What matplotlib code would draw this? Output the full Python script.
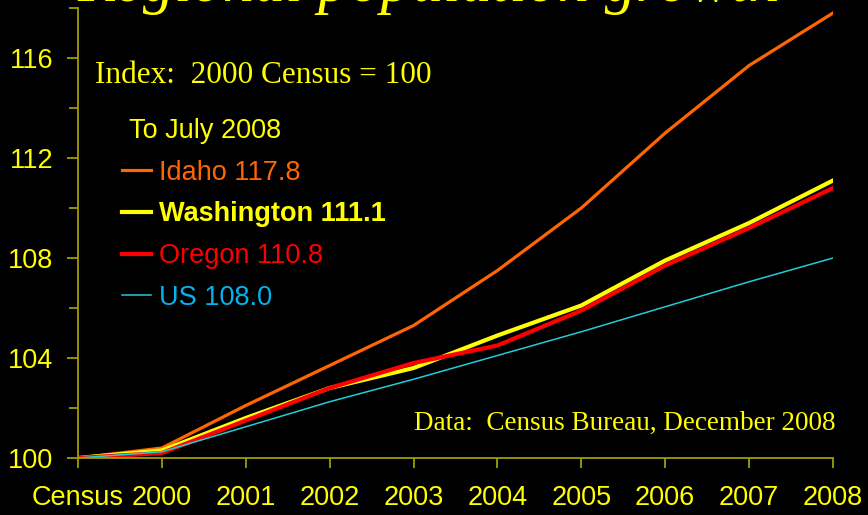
import matplotlib
matplotlib.use("Agg")
import matplotlib.pyplot as plt
import numpy as np

# ---- data ----
categories = ["Census", "2000", "2001", "2002", "2003", "2004", "2005", "2006", "2007", "2008"]
idaho      = [100.0, 100.4, 102.1, 103.7, 105.3, 107.5, 110.0, 113.0, 115.7, 117.8]
washington = [100.0, 100.3, 101.6, 102.8, 103.6, 104.9, 106.1, 107.9, 109.4, 111.1]
oregon     = [100.0, 100.2, 101.5, 102.8, 103.8, 104.5, 105.9, 107.7, 109.2, 110.8]
us         = [100.0, 100.25, 101.25, 102.25, 103.15, 104.1, 105.05, 106.05, 107.05, 108.0]
series_labels = ["Idaho 117.8", "Washington 111.1", "Oregon 110.8", "US 108.0"]
y_major = [100, 104, 108, 112, 116]
y_minor = [102, 106, 110, 114, 118]

YEL = "#FFFF00"
AXC = "#A09E00"
SANS = "Liberation Sans"
SERIF = "Liberation Serif"

W, H = 868, 515
fig = plt.figure(figsize=(W / 100, H / 100), dpi=100, facecolor="black")
ax = fig.add_axes([78 / W, (H - 458) / H, (833 - 78) / W, (458 - 8) / H])
ax.set_facecolor("black")

x = np.arange(len(categories))
colors = ["#FF6600", "#FFFF00", "#FF0000", "#22CCD8"]
text_colors = ["#FF6600", "#FFFF00", "#FF0000", "#00B4F0"]
widths = [2.3, 3.0, 3.0, 1.1]
lines = []
for vals, c, lw, lab in zip([idaho, washington, oregon, us], colors, widths, series_labels):
    ln, = ax.plot(x, vals, color=c, lw=lw, label=lab, solid_joinstyle="round")
    lines.append(ln)

ax.set_xlim(0, len(categories) - 1)
ax.set_ylim(100, 118)
ax.set_xticks(x)
ax.set_xticklabels(categories)
ax.set_yticks(y_major)
ax.set_yticks(y_minor, minor=True)

for s in ["top", "right"]:
    ax.spines[s].set_visible(False)
for s in ["left", "bottom"]:
    ax.spines[s].set_color(AXC)
    ax.spines[s].set_linewidth(1.3)

ax.tick_params(axis="y", which="major", length=8, width=1.3, color=AXC, pad=10,
               labelcolor=YEL, labelsize=19.5)
ax.tick_params(axis="y", which="minor", length=6.5, width=1.3, color=AXC)
ax.tick_params(axis="x", which="major", length=7.5, width=1.3, color=AXC, pad=12,
               labelcolor=YEL, labelsize=19.5)
for t in ax.get_xticklabels() + ax.get_yticklabels():
    t.set_fontfamily(SANS)

# legend
leg = ax.legend(handles=lines, loc="upper left",
                bbox_to_anchor=(122 / W, (H - 118) / H), bbox_transform=fig.transFigure,
                frameon=False, prop={"family": SANS, "size": 19.5},
                title=" To July 2008", title_fontproperties={"family": SANS, "size": 19.5},
                alignment="left", handlelength=1.07, handletextpad=0.3,
                labelspacing=0.58, borderpad=0, borderaxespad=0)
leg.get_title().set_color(YEL)
for t, c in zip(leg.get_texts(), text_colors):
    t.set_color(c)
leg.get_texts()[1].set_fontweight("bold")

# annotations
fig.text(95 / W, (H - 83) / H, "Index:  2000 Census = 100", color=YEL,
         family=SERIF, fontsize=22.5, ha="left", va="baseline")
fig.text(836 / W, (H - 430) / H, "Data:  Census Bureau, December 2008", color=YEL,
         family=SERIF, fontsize=19.5, ha="right", va="baseline")
fig.text(77 / W, (H - 1) / H, "Regional population growth", color=YEL,
         family=SERIF, style="italic", fontsize=45, ha="left", va="baseline")

fig.savefig("out.png", dpi=100, facecolor="black")
